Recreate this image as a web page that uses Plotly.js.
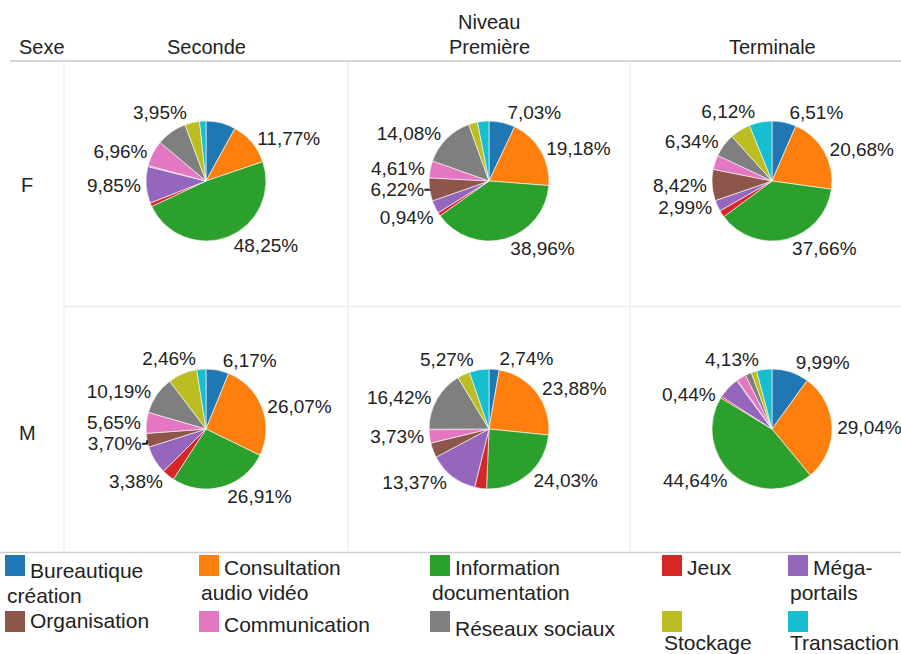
<!DOCTYPE html>
<html>
<head>
<meta charset="utf-8">
<script src="https://cdn.plot.ly/plotly-3.0.1.min.js"></script>
<style>html,body{margin:0;padding:0;background:#fff;}#chart{width:901px;height:654px;}</style>
</head>
<body>
<div id="chart"></div>
<script>
// ---- data ----
const categories = ["Bureautique création","Consultation audio vidéo","Information documentation","Jeux","Méga-portails","Organisation","Communication","Réseaux sociaux","Stockage","Transaction"];
const legendLines = [["Bureautique","création"],["Consultation","audio vidéo"],["Information","documentation"],["Jeux"],["Méga-","portails"],["Organisation"],["Communication"],["Réseaux sociaux"],["","Stockage"],["","Transaction"]];
const niveaux = ["Seconde","Première","Terminale"];
const sexes = ["F","M"];

const seconde_F   = [8.00, 11.77, 48.25, 1.00, 9.85, 0.30, 6.96, 8.20, 3.95, 1.72];
const premiere_F  = [7.03, 19.18, 38.96, 0.94, 3.50, 6.22, 4.61, 14.08, 2.40, 3.08];
const terminale_F = [6.51, 20.68, 37.66, 1.86, 2.99, 8.42, 3.90, 6.34, 5.52, 6.12];
const seconde_M   = [6.17, 26.07, 26.91, 3.38, 7.60, 3.70, 5.65, 10.19, 7.87, 2.46];
const premiere_M  = [2.74, 23.88, 24.03, 3.20, 13.37, 4.00, 3.73, 16.42, 3.36, 5.27];
const terminale_M = [9.99, 29.04, 44.64, 0.44, 5.80, 0.30, 2.50, 1.70, 1.46, 4.13];

const shown_seconde_F   = [0,1,1,0,1,0,1,0,1,0];
const shown_premiere_F  = [1,1,1,1,0,1,1,1,0,0];
const shown_terminale_F = [1,1,1,0,1,1,0,1,0,1];
const shown_seconde_M   = [1,1,1,1,0,1,1,1,0,1];
const shown_premiere_M  = [1,1,1,0,1,0,1,1,0,1];
const shown_terminale_M = [1,1,1,1,0,0,0,0,0,1];

// ---- styling / layout ----
const colors = ["#1f77b4","#ff7f0e","#2ca02c","#d62728","#9467bd","#8c564b","#e377c2","#7f7f7f","#bcbd22","#17becf"];
const W = 901, H = 654;
const FONT = "Liberation Sans, Arial, sans-serif";
const TXT = "#222";
const FS = 20;     // headers
const PFS = 19;    // slice labels
const LFS = 21;    // legend
const px = x => x / W;
const py = y => 1 - y / H;

const colCenters = [206, 489, 772];
const rowCenters = [181, 429];
const R = 60;

const cells = [
  [seconde_F, premiere_F, terminale_F],
  [seconde_M, premiere_M, terminale_M]
];
const shown = [
  [shown_seconde_F, shown_premiere_F, shown_terminale_F],
  [shown_seconde_M, shown_premiere_M, shown_terminale_M]
];

const fmt = v => v.toFixed(2).replace('.', ',') + '%';

const data = [];
for (let r = 0; r < 2; r++) {
  for (let c = 0; c < 3; c++) {
    const vals = cells[r][c];
    const sh = shown[r][c];
    const cx = colCenters[c], cy = rowCenters[r];
    data.push({
      type: 'pie',
      labels: categories,
      values: vals,
      text: vals.map(fmt),
      textinfo: 'text',
      textposition: sh.map(s => s ? 'outside' : 'none'),
      outsidetextfont: {family: FONT, size: PFS, color: TXT},
      sort: false,
      direction: 'clockwise',
      rotation: 0,
      marker: {colors: colors, line: {color: '#ffffff', width: 0.6}},
      domain: {x: [px(cx - R), px(cx + R)], y: [py(cy + R), py(cy - R)]},
      hoverinfo: 'skip',
      showlegend: false
    });
  }
}

const shapes = [];
const annotations = [];
// header line and grid
shapes.push({type:'line', xref:'paper', yref:'paper', x0:px(10), x1:px(901), y0:py(61), y1:py(61), line:{color:'#c8c8c8', width:1.5}});
shapes.push({type:'line', xref:'paper', yref:'paper', x0:px(0), x1:px(901), y0:py(552.5), y1:py(552.5), line:{color:'#d0d0d0', width:1.5}});
shapes.push({type:'line', xref:'paper', yref:'paper', x0:px(65), x1:px(901), y0:py(306.5), y1:py(306.5), line:{color:'#f0f0f0', width:2}});
[64, 348, 630].forEach(x => shapes.push({type:'line', xref:'paper', yref:'paper', x0:px(x), x1:px(x), y0:py(62), y1:py(552), line:{color:'#f0f0f0', width:1.5}}));

const addText = (t, x, y, xanchor, size) => annotations.push({text: t, xref:'paper', yref:'paper', x: px(x), y: py(y), xanchor: xanchor || 'center', yanchor:'middle', showarrow:false, font:{family:FONT, size:size || FS, color:TXT}});

addText("Sexe", 17, 47, 'left');
addText("Niveau", colCenters[1], 22);
niveaux.forEach((n, i) => addText(n, colCenters[i], 47));
sexes.forEach((s, i) => addText(s, 27, rowCenters[i] + 4));

// legend
const legCols = [5, 199, 430, 662, 788];
const legRows = [555, 611];
const legFirst = [[15, 12, 12, 12, 12], [9, 13, 17, 0, 0]];
const legSecond = [[40, 37, 37, 37, 37], [0, 0, 0, 31, 31]];
const SW = 20;
categories.forEach((cat, i) => {
  const col = i % 5, row = Math.floor(i / 5);
  const x0 = legCols[col], y0 = legRows[row];
  shapes.push({type:'rect', xref:'paper', yref:'paper', x0:px(x0), x1:px(x0 + SW), y0:py(y0 + 21), y1:py(y0), fillcolor: colors[i], line:{width:0}});
  const lines = legendLines[i];
  lines.forEach((ln, k) => {
    if (!ln) return;
    const lx = k === 0 ? x0 + SW + 3 : x0;
    const ly = y0 + (k === 0 ? legFirst[row][col] : legSecond[row][col]);
    addText(ln, lx, ly, 'left', LFS);
  });
});

const layout = {
  width: W, height: H,
  margin: {l:0, r:0, t:0, b:0},
  paper_bgcolor: '#ffffff',
  plot_bgcolor: '#ffffff',
  font: {family: FONT, size: FS, color: TXT},
  showlegend: false,
  shapes: shapes,
  annotations: annotations
};

Plotly.newPlot('chart', data, layout, {staticPlot: true, displayModeBar: false});
</script>
</body>
</html>
